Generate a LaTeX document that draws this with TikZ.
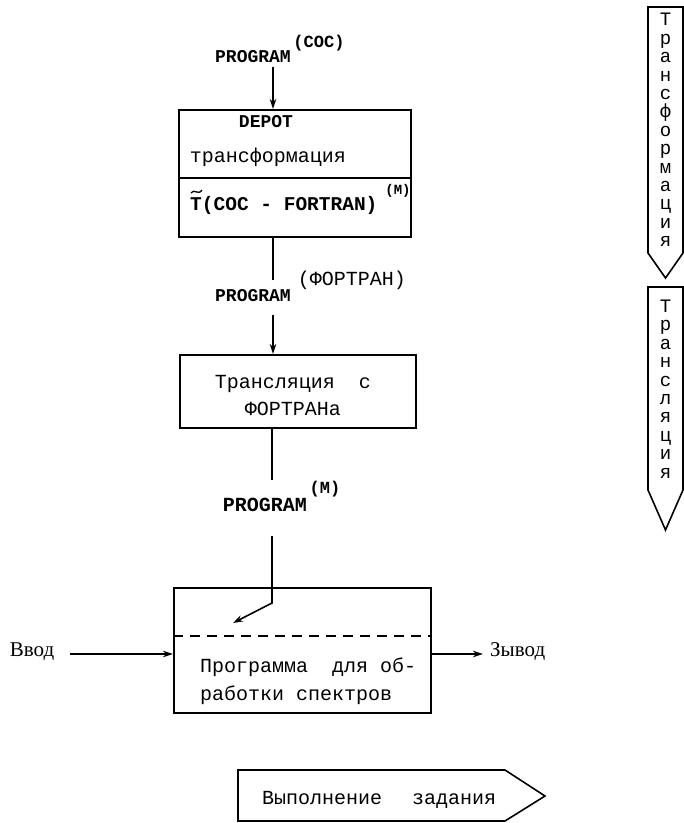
\documentclass[tikz,border=0pt]{standalone}
\usepackage{fontspec}
\setmainfont{Liberation Mono}
\newfontfamily\serifcyr{Liberation Serif}
\usetikzlibrary{arrows.meta}
\begin{document}
\begin{tikzpicture}[x=1pt,y=-1pt,
  txt/.style={inner sep=0pt, font=\fontsize{20}{22}\selectfont},
  bold/.style={inner sep=0pt, font=\fontsize{18}{20}\selectfont\bfseries},
  supr/.style={inner sep=0pt, font=\fontsize{17}{19}\selectfont\bfseries},
  serif/.style={inner sep=0pt, font=\fontsize{21}{23}\serifcyr},
  box/.style={draw, line width=2pt, inner sep=0pt},
  conn/.style={line width=1.6pt},
  arr/.style={conn, -{Stealth[length=10pt,width=6.5pt]}},
  banner/.style={draw, line width=1.6pt, line join=miter},
  vtext/.style={inner sep=0pt, align=center, font=\fontsize{19}{18.4}\selectfont},
]
\useasboundingbox (0,0) rectangle (684,823);

% ---- boxes
\node[box, minimum width=232pt, minimum height=127pt] (box1) at (295,173.5) {};
\node[box, minimum width=236pt, minimum height=73pt] (box2) at (298,391.5) {};
\node[box, minimum width=257pt, minimum height=125pt] (box3) at (302.5,650.5) {};

% divider and dashed line
\coordinate (d1) at (0,178);
\draw[line width=2pt] (box1.west |- d1) -- (box1.east |- d1);
\coordinate (d2) at (0,636);
\draw[line width=2.2pt, dash pattern=on 10pt off 7pt] (box3.west |- d2) -- (box3.east |- d2);

% ---- texts in box 1
\node[bold] (depot) at (266,122) {DEPOT};
\node[txt] (trf) at (268,157) {трансформация};
\node[bold, anchor=west, font=\fontsize{19.5}{21}\selectfont\bfseries] (tform) at (190,205)
  {T(COC - FORTRAN)};
\draw[line width=1.3pt] (191,193) .. controls (194,188) and (198,196) .. (202,190);
\node[supr, font=\fontsize{14}{16}\selectfont\bfseries] (tsup) at (398,191) {(M)};

% ---- text in box 2
\node[txt, align=center, font=\fontsize{20}{27}\selectfont] (trl) at (293,396)
  {Трансляция\ \ с\\ФОРТРАНа};

% ---- text in box 3
\node[txt, align=left, anchor=west, font=\fontsize{20}{28}\selectfont] (prg) at (200,681)
  {Программа\ \ для об-\\работки спектров};

% ---- labels on connectors
\node[bold] (p1) at (253,57) {PROGRAM};
\node[supr] (p1s) at (319,43) {(COC)};
\node[bold] (p2) at (253,296) {PROGRAM};
\node[txt] (p2s) at (352,280) {(ФОРТРАН)};
\node[bold, font=\fontsize{20}{22}\selectfont\bfseries] (p3) at (265,505) {PROGRAM};
\node[supr] (p3s) at (325,489) {(M)};

% ---- connectors
\coordinate (s1) at (273,67);
\draw[arr] (s1) -- (s1 |- box1.north);
\coordinate (m1) at (273,280);
\coordinate (m2) at (273,315);
\draw[conn] (m1 |- box1.south) -- (m1);
\draw[arr] (m2) -- (m2 |- box2.north);
\coordinate (m3) at (272,480);
\coordinate (m4) at (272,536);
\coordinate (bend) at (272,603);
\coordinate (tip) at (233,623);
\draw[conn] (m3 |- box2.south) -- (m3);
\draw[arr] (m4) -- (bend) -- (tip);

% input / output
\node[serif] (vin) at (32,652) {Ввод};
\node[serif, anchor=west] (vout) at (490,652) {Зывод};
\coordinate (vs) at (70,654);
\draw[arr] (vs) -- (vs -| box3.west);
\coordinate (ve) at (483,654);
\draw[arr] (ve -| box3.east) -- (ve);

% ---- side banners
\draw[banner] (648,7) -- (683,7) -- (683,253) -- (665.5,278) -- (648,253) -- cycle;
\node[vtext] (v1) at (665.5,130)
  {Т\\р\\а\\н\\с\\ф\\о\\р\\м\\а\\ц\\и\\я};
\draw[banner] (648,287) -- (683,287) -- (683,490) -- (665.5,530) -- (648,490) -- cycle;
\node[vtext] (v2) at (665.5,389)
  {Т\\р\\а\\н\\с\\л\\я\\ц\\и\\я};

% ---- bottom banner
\draw[banner] (238,770) -- (505,770) -- (545,796) -- (505,821) -- (238,821) -- cycle;
\node[txt, anchor=base west] (b1) at (262,804) {Выполнение};
\node[txt, anchor=base west] (b2) at (412,804) {задания};
\end{tikzpicture}
\end{document}
